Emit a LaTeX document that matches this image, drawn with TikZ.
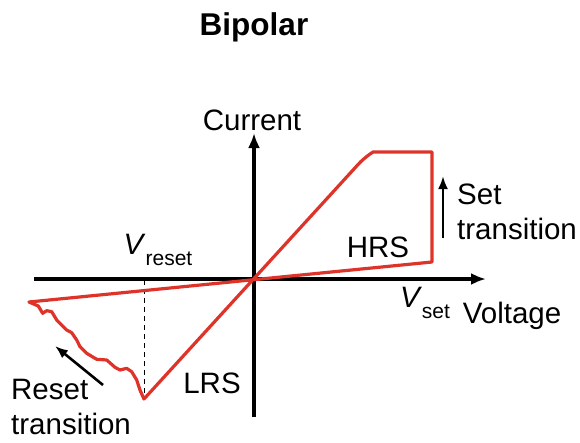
\documentclass[tikz,border=0pt]{standalone}
\usepackage{fontspec}
\setmainfont{Liberation Sans}
\usetikzlibrary{positioning,arrows.meta}
\definecolor{curveclr}{rgb}{0.87, 0.20, 0.16}
\tikzset{ %
  ,>={Latex[length=15pt,width=12pt]}
  ,every node/.style={font=\fontsize{29.5}{35}\selectfont, inner sep=0}
  ,axis/.style={draw, line width=3.2pt}
  ,loop/.style={draw=curveclr, line width=3.2pt, line join=round}
  ,trans/.style={draw, line width=2.6pt, ->, >={Latex[length=13pt,width=10pt]}}
  ,lbl/.style={align=left, anchor=west}
}
\newcommand{\volt}[1]{\textit{V}\raisebox{-0.35em}{\fontsize{21}{21}\selectfont #1}}

\begin{document}
\begin{tikzpicture}[x=1pt, y=-1pt]
    \useasboundingbox (0,0) rectangle (580,442);
    % axes
    \coordinate (O) at (254,279);
    \coordinate (xl) at (34,279);
    \coordinate (xr) at (486,279);
    \coordinate (yb) at (254,417);
    \coordinate (yt) at (254,133);
    \draw[axis] (xl) -- (O);
    \draw[axis, ->] (O) -- (xr);
    \draw[axis, ->] (yb) -- (yt);
    % loop
    \coordinate (hrsL) at (29,302);
    \coordinate (hrsR) at (432,262);
    \coordinate (setTop) at (432,152);
    \coordinate (knee) at (373,152);
    \coordinate (resetBot) at (144,399);
    \draw[dashed, line width=1pt, dash pattern=on 5pt off 4pt] (144,280) -- (resetBot);
    \draw[loop] (hrsL) -- (hrsR) -- (setTop) -- (knee)
      [rounded corners=8pt] -- (364,158) [sharp corners] -- (resetBot)
      -- (140,390) -- (136.7,380) -- (131.7,371.7) -- (126.7,368.3) -- (120,370)
      -- (115,367.3) -- (106.7,360) -- (96.7,359.3) -- (86.7,353.3) -- (80,346.7)
      -- (76.7,340) -- (71.7,332.7) -- (66.7,330) -- (56.7,320) -- (51.7,311.7)
      -- (46.7,310.7) -- (42.7,313.3) -- (38.3,306) -- cycle;
    % labels
    \node (title) at (254,27) {\fontsize{31.5}{35}\selectfont\bfseries Bipolar};
    \node (cur) at (252,120) {Current};
    \node (volt) at (512,316) {Voltage};
    \node (vset) at (425,303) {\volt{set}};
    \node (vreset) at (158,250) {\volt{reset}};
    \node (hrs) at (378,247) {HRS};
    \node (lrs) at (212,383) {LRS};
    \node[lbl] (setlbl) at (457,212) {Set\\transition};
    \node[lbl] (resetlbl) at (11,407) {Reset\\transition};
    \coordinate (setA) at (443,238);
    \coordinate (setB) at (443,176);
    \coordinate (resA) at (103,385);
    \coordinate (resB) at (55,346);
    \draw[trans] (setA) -- (setB);
    \draw[trans] (resA) -- (resB);
\end{tikzpicture}
\end{document}
